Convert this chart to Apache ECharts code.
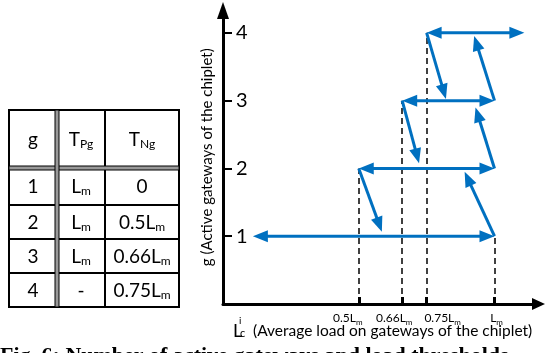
<!DOCTYPE html>
<html>
<head>
<meta charset="utf-8">
<script src="https://cdn.jsdelivr.net/npm/echarts@6/dist/echarts.min.js"></script>
<style>
html,body{margin:0;padding:0;background:#fff}
#chart{width:551px;height:353px}
</style>
</head>
<body>
<div id="chart"></div>
<script>
// g levels and the load band of each level (fraction of Lm)
var levels = [1, 2, 3, 4];
var leftEnd = [0.11, 0.5, 0.66, 0.75];
var rightEnd = [1, 1, 1, 1.11];
// diagonal transitions [fromX, fromG, toX, toG]
var upArrows = [[1, 1, 0.89, 1.95], [1, 2, 0.93, 2.9], [1, 3, 0.925, 3.955]];
var downArrows = [[0.5, 2, 0.585, 1.067], [0.66, 3, 0.722, 2.077], [0.75, 4, 0.821, 3.026]];
// dashed guides
var dashX = [0.5, 0.66, 0.75, 1];
var dashTop = [2, 3, 4, 1];
// axis ticks
var xTicks = [0.5, 0.66, 0.75, 1];
var xTickText = ['0.5L', '0.66L', '0.75L', 'L'];
var yTicks = [1, 2, 3, 4];
// table
var tableHead = [['g', ''], ['T', 'Pg'], ['T', 'Ng']];
var tableG = [['1', ''], ['2', ''], ['3', ''], ['4', '']];
var tablePg = [['L', 'm'], ['L', 'm'], ['L', 'm'], ['-', '']];
var tableNg = [['0', ''], ['0.5L', 'm'], ['0.66L', 'm'], ['0.75L', 'm']];

var BLUE = '#0070c0';
var FONT = 'Lato';
var labelShift = [-11, -8, 16, 2]; // px, the tick labels sit off-centre in the figure

var chart = echarts.init(document.getElementById('chart'));

function arrowItem(params, api) {
    var a = api.coord([api.value(0), api.value(1)]);
    var b = api.coord([api.value(2), api.value(3)]);
    var headA = api.value(4), headB = api.value(5);
    var dx = b[0] - a[0], dy = b[1] - a[1];
    var len = Math.sqrt(dx * dx + dy * dy);
    var ux = dx / len, uy = dy / len;
    var HL = 15, HW = 6;
    var s = headA ? [a[0] + ux * HL * 0.7, a[1] + uy * HL * 0.7] : a;
    var e = headB ? [b[0] - ux * HL * 0.7, b[1] - uy * HL * 0.7] : b;
    var kids = [{
        type: 'line',
        shape: {x1: s[0], y1: s[1], x2: e[0], y2: e[1]},
        style: {stroke: BLUE, lineWidth: 3}
    }];
    function head(tip, vx, vy) {
        var bx = tip[0] - vx * HL, by = tip[1] - vy * HL;
        return {
            type: 'polygon',
            shape: {points: [tip, [bx - vy * HW, by + vx * HW], [bx + vy * HW, by - vx * HW]]},
            style: {fill: BLUE}
        };
    }
    if (headA) kids.push(head(a, -ux, -uy));
    if (headB) kids.push(head(b, ux, uy));
    return {type: 'group', children: kids};
}

var arrowData = [];
for (var i = 0; i < levels.length; i++) {
    arrowData.push([leftEnd[i], levels[i], rightEnd[i], levels[i], 1, 1]);
}
upArrows.concat(downArrows).forEach(function (d) {
    arrowData.push([d[0], d[1], d[2], d[3], 0, 1]);
});

var xRich = {
    n: {fontSize: 12, fontFamily: FONT, color: '#000', lineHeight: 14, verticalAlign: 'top'},
    s: {fontSize: 8, fontFamily: FONT, color: '#000', lineHeight: 8, padding: [7, 0, 0, 0], verticalAlign: 'bottom'}
};
labelShift.forEach(function (v, k) {
    xRich['p' + k] = {width: Math.abs(v) * 2, fontSize: 8};
});

// table graphics
var colX = [9, 57, 105, 179];
var rowY = [110, 168, 205, 239, 273, 307];
var tRich = {
    n: {fontSize: 19, fontFamily: FONT, color: '#000', lineHeight: 20, verticalAlign: 'top'},
    s: {fontSize: 12, fontFamily: FONT, color: '#000', lineHeight: 12, padding: [9, 0, 0, 0], verticalAlign: 'bottom'}
};
function cellText(c, r, cell) {
    var t = '{n|' + cell[0] + '}' + (cell[1] ? '{s|' + cell[1] + '}' : '');
    return {
        type: 'text',
        x: (colX[c] + colX[c + 1]) / 2,
        y: (rowY[r] + rowY[r + 1]) / 2 + 1,
        style: {text: t, rich: tRich, align: 'center', verticalAlign: 'middle', textAlign: 'center', textVerticalAlign: 'middle'}
    };
}
var tableEls = [];
tableEls.push({type: 'rect', shape: {x: colX[0], y: rowY[0], width: colX[3] - colX[0], height: rowY[5] - rowY[0]},
    style: {fill: '#fff', stroke: '#000', lineWidth: 2}});
for (var r = 2; r < 5; r++) {
    tableEls.push({type: 'line', shape: {x1: colX[0], y1: rowY[r], x2: colX[3], y2: rowY[r]}, style: {stroke: '#000', lineWidth: 2}});
}
tableEls.push({type: 'line', shape: {x1: colX[2], y1: rowY[0], x2: colX[2], y2: rowY[5]}, style: {stroke: '#000', lineWidth: 2}});
// double rules
tableEls.push({type: 'rect', shape: {x: colX[0], y: rowY[1] - 2, width: colX[3] - colX[0], height: 4},
    style: {fill: '#999', stroke: '#000', lineWidth: 1}});
tableEls.push({type: 'rect', shape: {x: colX[1] - 2, y: rowY[0], width: 4, height: rowY[5] - rowY[0]},
    style: {fill: '#999', stroke: '#000', lineWidth: 1}});
tableHead.forEach(function (c, k) { tableEls.push(cellText(k, 0, c)); });
for (var j = 0; j < 4; j++) {
    tableEls.push(cellText(0, j + 1, tableG[j]));
    tableEls.push(cellText(1, j + 1, tablePg[j]));
    tableEls.push(cellText(2, j + 1, tableNg[j]));
}

var option = {
    backgroundColor: '#fff',
    animation: false,
    grid: {left: 223, top: 10.5, right: 12.5, bottom: 49},
    xAxis: {
        type: 'value',
        min: 0,
        max: 1.162,
        splitLine: {show: false},
        axisLine: {
            symbol: ['none', 'triangle'],
            symbolSize: [12, 13],
            lineStyle: {color: '#000', width: 3}
        },
        axisTick: {customValues: xTicks, inside: true, length: 7, lineStyle: {color: '#000', width: 3}},
        axisLabel: {
            customValues: xTicks,
            margin: 8,
            rich: xRich,
            formatter: function (v) {
                var k = 0;
                for (var q = 0; q < xTicks.length; q++) {
                    if (Math.abs(xTicks[q] - v) < 1e-6) k = q;
                }
                var body = '{n|' + xTickText[k] + '}{s|m}';
                var pad = '{p' + k + '| }';
                return labelShift[k] < 0 ? body + pad : pad + body;
            }
        }
    },
    yAxis: {
        type: 'value',
        min: 0,
        max: 4.33,
        interval: 1,
        splitLine: {show: false},
        axisLine: {
            symbol: ['none', 'triangle'],
            symbolSize: [12, 17],
            lineStyle: {color: '#000', width: 3}
        },
        axisTick: {customValues: yTicks, inside: true, length: 9, lineStyle: {color: '#000', width: 2}},
        axisLabel: {customValues: yTicks, inside: true, margin: 13, fontSize: 20, fontFamily: FONT, color: '#000'},
        name: 'g (Active gateways of the chiplet)',
        nameLocation: 'middle',
        nameGap: 7,
        nameTextStyle: {fontSize: 15, fontFamily: FONT, color: '#000'}
    },
    graphic: [
        {type: 'group', children: tableEls},
        {type: 'text', x: 233, y: 322, style: {text: 'L', font: '18px Lato', fill: '#000'}},
        {type: 'text', x: 239, y: 316, style: {text: 'i', font: '10px Lato', fill: '#000'}},
        {type: 'text', x: 240, y: 328, style: {text: 'c', font: '11px Lato', fill: '#000'}},
        {type: 'text', x: 253, y: 323, style: {text: '(Average load on gateways of the chiplet)', font: '15.5px Lato', fill: '#000'}},
        {type: 'text', x: 0, y: 345, style: {text: 'Fig. 6: Number of active gateways and load thresholds', font: 'bold 22px "Liberation Serif"', fill: '#000'}}
    ],
    series: [
        {
            type: 'lines',
            coordinateSystem: 'cartesian2d',
            silent: true,
            z: 1,
            lineStyle: {color: '#000', width: 1.5, type: [6, 4], opacity: 1},
            data: dashX.map(function (x, k) { return {coords: [[x, 0], [x, dashTop[k]]]}; })
        },
        {
            type: 'custom',
            coordinateSystem: 'cartesian2d',
            silent: true,
            z: 3,
            encode: {x: [0, 2], y: [1, 3]},
            renderItem: arrowItem,
            data: arrowData
        }
    ]
};
chart.setOption(option);
window.addEventListener('resize', function () { chart.resize(); });
</script>
</body>
</html>
